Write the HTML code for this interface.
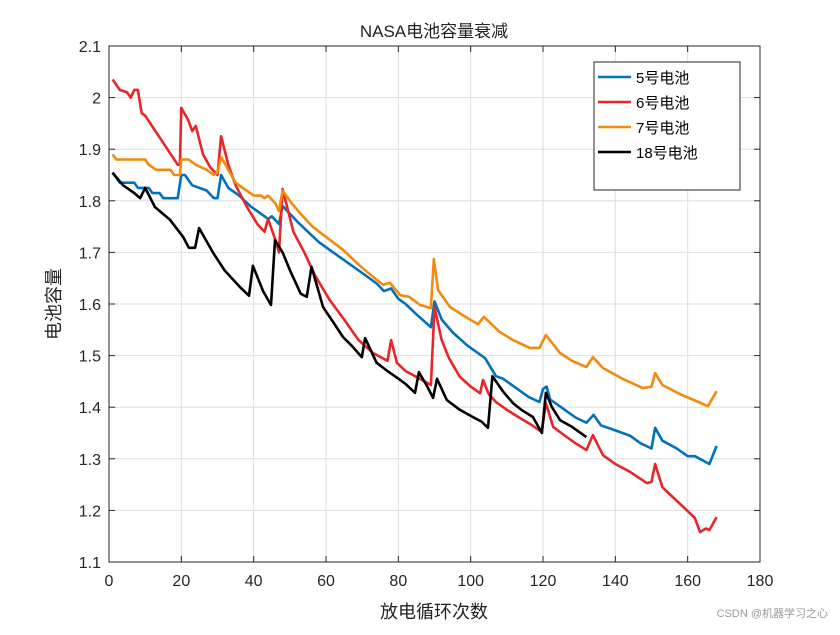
<!DOCTYPE html>
<html><head><meta charset="utf-8"><style>
body{margin:0;background:#fff;width:840px;height:630px;overflow:hidden}
text{font-family:"Liberation Sans","Noto Sans CJK SC",sans-serif}
</style></head><body>
<svg id="chart" width="840" height="630" xmlns="http://www.w3.org/2000/svg">
<rect width="840" height="630" fill="#fff"/>
<g id="grid"></g><g id="series"></g><g id="axes"></g>
<text x="434" y="37" text-anchor="middle" font-size="17" fill="#222">NASA电池容量衰减</text>
<text x="434" y="618" text-anchor="middle" font-size="18" fill="#222">放电循环次数</text>
<text transform="translate(60,304) rotate(-90)" text-anchor="middle" font-size="18" fill="#222">电池容量</text>
<g id="legend"></g>
<text x="828" y="617" text-anchor="end" font-size="11" fill="#999">CSDN @机器学习之心</text>
</svg>
<script>
const xTicks=[0,20,40,60,80,100,120,140,160,180];
const yTicks=[1.1,1.2,1.3,1.4,1.5,1.6,1.7,1.8,1.9,2.0,2.1];
const yTickLabels=["1.1","1.2","1.3","1.4","1.5","1.6","1.7","1.8","1.9","2","2.1"];
const seriesNames=["5号电池","6号电池","7号电池","18号电池"];
const seriesColors=["#0072BD","#E8262A","#F28A0C","#000000"];
const b5=[[1,1.855],[3,1.835],[7,1.835],[8,1.825],[11,1.825],[12,1.815],[14,1.815],[15,1.805],[19,1.805],[20,1.85],[21,1.85],[23,1.83],[25,1.825],[27,1.82],[29,1.805],[30,1.805],[31,1.85],[33,1.825],[36,1.81],[39,1.79],[42,1.775],[44,1.765],[45,1.77],[47,1.755],[48,1.79],[50,1.775],[52,1.76],[55,1.74],[58,1.72],[62,1.70],[66,1.68],[70,1.66],[74,1.64],[76,1.625],[78,1.63],[80,1.61],[82,1.60],[85,1.58],[89,1.555],[90,1.605],[92,1.57],[95,1.545],[99,1.52],[102,1.505],[104,1.495],[107,1.46],[109,1.455],[112,1.44],[116,1.42],[119,1.41],[120,1.435],[121,1.44],[122,1.415],[125,1.40],[129,1.38],[132,1.37],[134,1.385],[136,1.365],[140,1.355],[144,1.345],[147,1.33],[150,1.32],[151,1.36],[153,1.335],[157,1.32],[160,1.305],[162,1.305],[166,1.29],[168,1.325]];
const b6=[[1,2.035],[3,2.015],[5,2.01],[6,2.0],[7,2.015],[8,2.015],[9,1.97],[10,1.965],[19,1.87],[19.6,1.87],[20,1.98],[22,1.955],[23,1.935],[24,1.945],[26,1.89],[28,1.865],[30,1.85],[31,1.925],[33,1.87],[35,1.83],[38,1.79],[41,1.755],[43,1.74],[44,1.765],[46,1.724],[47,1.70],[48,1.823],[51,1.74],[54,1.70],[57,1.655],[61,1.608],[65,1.57],[69,1.53],[73,1.505],[77,1.49],[78,1.53],[79.6,1.486],[82,1.47],[85,1.459],[89,1.443],[90,1.594],[92,1.53],[94,1.495],[97,1.459],[100,1.44],[102.6,1.427],[103.4,1.453],[105,1.425],[107,1.41],[110,1.395],[113.6,1.379],[117,1.365],[119.6,1.352],[120.8,1.408],[122.8,1.362],[126,1.345],[129,1.33],[132,1.317],[133.8,1.346],[136.6,1.307],[140,1.29],[144,1.275],[148.7,1.253],[150,1.255],[151,1.29],[153,1.245],[156,1.225],[159.8,1.2],[162,1.185],[163.4,1.158],[165,1.165],[166,1.162],[168,1.187]];
const b7=[[1,1.89],[2,1.88],[10,1.88],[11,1.87],[13,1.86],[17,1.86],[18,1.85],[19.6,1.85],[20,1.88],[22,1.88],[24,1.87],[27,1.86],[29,1.85],[30,1.855],[31,1.885],[33,1.86],[35,1.835],[37,1.825],[40,1.81],[42,1.81],[43,1.805],[44,1.81],[46,1.795],[47,1.78],[48,1.82],[50,1.80],[52.8,1.776],[56.4,1.749],[60,1.73],[64.7,1.705],[70,1.67],[75.8,1.637],[77.7,1.641],[80.5,1.617],[83,1.614],[86,1.598],[89,1.592],[89.8,1.687],[91,1.627],[94.3,1.594],[99,1.573],[102,1.561],[103.7,1.575],[108,1.546],[111.7,1.53],[116.4,1.515],[119,1.515],[120.8,1.54],[124.7,1.505],[128,1.49],[132,1.478],[133.8,1.497],[136.6,1.476],[142,1.455],[147.6,1.437],[150,1.44],[151,1.466],[153,1.443],[158,1.425],[163,1.41],[165.6,1.402],[168,1.431]];
const b18=[[1,1.854],[3.9,1.83],[7,1.815],[8.6,1.805],[10,1.825],[12.7,1.788],[16.9,1.763],[20.5,1.73],[22.1,1.709],[23.8,1.709],[24.9,1.747],[28.8,1.699],[32,1.665],[36.2,1.633],[38.7,1.616],[39.8,1.674],[42.6,1.625],[44.8,1.598],[45.9,1.724],[48,1.70],[50,1.666],[53,1.62],[54.7,1.614],[56,1.672],[59.2,1.594],[62,1.565],[64.7,1.536],[67,1.52],[69.9,1.497],[70.8,1.534],[74,1.486],[77,1.47],[80.5,1.453],[82,1.445],[84.6,1.428],[85.7,1.468],[88,1.44],[89.6,1.418],[90.7,1.455],[93.4,1.414],[97,1.395],[100.6,1.381],[103,1.372],[104.8,1.36],[106,1.46],[109,1.43],[111.7,1.408],[114,1.395],[117.2,1.381],[119.7,1.35],[120.8,1.428],[122.5,1.40],[124.7,1.375],[128,1.362],[132,1.342]];
const allSeries=[b5,b6,b7,b18];
const L=109,R=760,T=46,B=562;
const xs=c=>L+c/180*(R-L);
const ys=v=>B-(v-1.1)/1.0*(B-T);
const NS="http://www.w3.org/2000/svg";
function mk(tag,attrs,parent){const e=document.createElementNS(NS,tag);for(const k in attrs)e.setAttribute(k,attrs[k]);parent.appendChild(e);return e;}
const grid=document.getElementById('grid'),axes=document.getElementById('axes'),ser=document.getElementById('series'),leg=document.getElementById('legend');
mk('rect',{x:L,y:T,width:R-L,height:B-T,fill:'#fff'},grid);
xTicks.forEach(t=>{const x=xs(t);
 const g=mk('line',{x1:x,x2:x,y1:T,y2:B,stroke:'#dedede','stroke-width':1},grid);
 
 mk('line',{x1:x,x2:x,y1:B,y2:B-6,stroke:'#262626'},axes);
 mk('line',{x1:x,x2:x,y1:T,y2:T+6,stroke:'#262626'},axes);
 const tx=mk('text',{x:x,y:B+24,'text-anchor':'middle','font-size':16,fill:'#262626'},axes);tx.textContent=t;
 });
yTicks.forEach((t,i)=>{const y=ys(t);
 const g=mk('line',{x1:L,x2:R,y1:y,y2:y,stroke:'#dedede','stroke-width':1},grid);
 
 mk('line',{x1:L,x2:L+6,y1:y,y2:y,stroke:'#262626'},axes);
 mk('line',{x1:R,x2:R-6,y1:y,y2:y,stroke:'#262626'},axes);
 const tx=mk('text',{x:L-8,y:y+6,'text-anchor':'end','font-size':16,fill:'#262626'},axes);tx.textContent=yTickLabels[i];
 });
const box=mk('rect',{x:L,y:T,width:R-L,height:B-T,fill:'none',stroke:'#262626'},axes);

const ids=['line-battery-5','line-battery-6','line-battery-7','line-battery-18'];
allSeries.forEach((d,i)=>{const p=mk('polyline',{points:d.map(q=>xs(q[0]).toFixed(1)+','+ys(q[1]).toFixed(1)).join(' '),fill:'none',stroke:seriesColors[i],'stroke-width':2.6,'stroke-linejoin':'round'},ser);
 });
const lb=mk('rect',{x:594,y:62,width:146,height:128,fill:'#fff',stroke:'#262626'},leg);

seriesNames.forEach((n,i)=>{const y=77+i*25;
 const g=mk('g',{},leg);
 mk('line',{x1:598,x2:631,y1:y,y2:y,stroke:seriesColors[i],'stroke-width':2.6},g);
 const t=mk('text',{x:636,y:y+6,'font-size':15,fill:'#000'},g);t.textContent=n;});
</script>
</body></html>
